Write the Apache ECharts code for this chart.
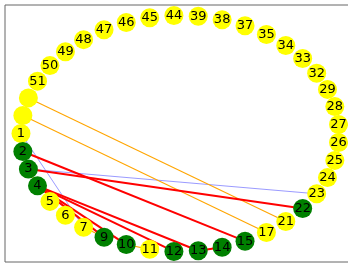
<!DOCTYPE html>
<html>
<head>
<meta charset="utf-8">
<script src="https://cdn.jsdelivr.net/npm/echarts@6/dist/echarts.min.js"></script>
<style>html,body{margin:0;padding:0;background:#fff;}#c{width:348px;height:267px;}</style>
</head>
<body>
<div id="c"></div>
<script>
// Node order around the circle (starting at the leftmost node, going via the bottom)
var nodeNames = ['1','2','3','4','5','6','7','9','10','11','12','13','14','15','17','21','22','23','24','25','26','27','28','29','32','33','34','35','37','38','39','44','45','46','47','48','49','50','51','u1','u2'];
var unlabeled = ['u1','u2'];
var greenNodes = ['2','3','4','9','10','12','13','14','15','22'];
var redEdges = [['2','15'],['3','22'],['4','9'],['4','10'],['4','12'],['4','13'],['13','14']];
var orangeEdges = [['u1','21'],['u2','17'],['7','9'],['10','11'],['3','4']];
var blueEdges = [['1','7'],['3','23']];

var n = nodeNames.length;
var nodes = nodeNames.map(function (name, k) {
  var t = Math.PI + 2 * Math.PI * k / n;
  var isGreen = greenNodes.indexOf(name) >= 0;
  return {
    name: name,
    value: [Math.cos(t), Math.sin(t)],
    itemStyle: { color: isGreen ? '#008000' : '#ffff00' },
    label: { show: unlabeled.indexOf(name) < 0 }
  };
});
function mk(list, style) {
  return list.map(function (e) { return { source: e[0], target: e[1], lineStyle: style }; });
}
var links = []
  .concat(mk(blueEdges, { color: '#5555ff', width: 0.8, opacity: 0.75, curveness: 0 }))
  .concat(mk(orangeEdges, { color: '#ffa500', width: 1.1, opacity: 1, curveness: 0 }))
  .concat(mk(redEdges, { color: '#ff0000', width: 2, opacity: 1, curveness: 0 }));

var chart = echarts.init(document.getElementById('c'), null, { renderer: 'canvas' });
chart.setOption({
  animation: false,
  grid: { left: 5, top: 5, width: 350, height: 257, outerBoundsMode: 'none', containLabel: false, show: true, borderColor: '#666', borderWidth: 1, backgroundColor: '#fff' },
  xAxis: { type: 'value', min: -1.1006, max: 1.1006, axisLine: { show: false }, axisTick: { show: false }, axisLabel: { show: false }, splitLine: { show: false } },
  yAxis: { type: 'value', min: -1.089, max: 1.089, axisLine: { show: false }, axisTick: { show: false }, axisLabel: { show: false }, splitLine: { show: false } },
  series: [{
    type: 'graph',
    coordinateSystem: 'cartesian2d',
    layout: 'none',
    symbol: 'circle',
    symbolSize: 19,
    edgeSymbol: ['none', 'none'],
    label: { show: true, position: 'inside', color: '#000', fontFamily: 'DejaVu Sans', fontSize: 13, formatter: '{b}' },
    emphasis: { disabled: true },
    data: nodes,
    links: links
  }]
});
</script>
</body>
</html>
